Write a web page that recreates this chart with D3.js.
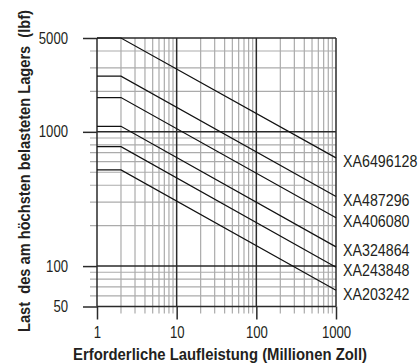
<!DOCTYPE html>
<html><head><meta charset="utf-8">
<script src="https://cdn.jsdelivr.net/npm/d3@7"></script>
<style>
body{margin:0;background:#fff}
svg{display:block}
text{font-family:"Liberation Sans",Arial,sans-serif;fill:#231f20}
</style>
</head><body><svg id="c" width="419" height="363"></svg>
<script>
const seriesNames = ["XA6496128","XA487296","XA406080","XA324864","XA243848","XA203242"];
const lifeX = [1, 2, 1000];
const loadValues = [
  [5000, 5000, 640],
  [2600, 2600, 330],
  [1800, 1800, 229],
  [1100, 1100, 139],
  [775, 775, 98],
  [520, 520, 66]
];
const xMajorTicks = [1, 10, 100, 1000];
const yMajorTicks = [50, 100, 1000, 5000];
const xMinorTicks = [2,3,4,5,6,7,8,9,20,30,40,50,60,70,80,90,200,300,400,500,600,700,800,900];
const yMinorTicks = [60,70,80,90,200,300,400,500,600,700,800,900,2000,3000,4000];
const xTitle = "Erforderliche Laufleistung (Millionen Zoll)";
const yTitle = "Last  des am höchsten belasteten Lagers  (lbf)";

const svg = d3.select("#c");
const L = 97, R = 336, T = 38, B = 306.5;
const x = d3.scaleLog().domain([1, 1000]).range([L, R]);
const y = d3.scaleLog().domain([50, 5000]).range([B, T]);

const gray = "#ababab", dark = "#2a2a2a";

function narrow(sel, factor) {
  sel.each(function () {
    const w = this.getComputedTextLength();
    d3.select(this).attr("textLength", w * factor).attr("lengthAdjust", "spacingAndGlyphs");
  });
}
function fitWidth(sel, width) {
  sel.attr("textLength", width).attr("lengthAdjust", "spacingAndGlyphs");
}

// minor grid (with outside extension acting as minor ticks)
svg.append("g").selectAll("line").data(xMinorTicks).join("line")
  .attr("x1", d => x(d)).attr("x2", d => x(d))
  .attr("y1", T).attr("y2", B + 7)
  .attr("stroke", gray).attr("stroke-width", 1.2);
svg.append("g").selectAll("line").data(yMinorTicks).join("line")
  .attr("y1", d => y(d)).attr("y2", d => y(d))
  .attr("x1", L - 7).attr("x2", R)
  .attr("stroke", gray).attr("stroke-width", 1.2);

// major grid lines
svg.append("g").selectAll("line").data(xMajorTicks).join("line")
  .attr("x1", d => x(d)).attr("x2", d => x(d))
  .attr("y1", T).attr("y2", B)
  .attr("stroke", dark).attr("stroke-width", 1.5);
svg.append("g").selectAll("line").data(yMajorTicks).join("line")
  .attr("y1", d => y(d)).attr("y2", d => y(d))
  .attr("x1", L).attr("x2", R)
  .attr("stroke", dark).attr("stroke-width", 1.5);

// axes (major ticks + labels)
const fmt = d3.format("d");
const xAxis = svg.append("g").attr("transform", `translate(0,${B})`)
  .call(d3.axisBottom(x).tickValues(xMajorTicks).tickFormat(fmt).tickSize(13).tickPadding(7));
const yAxis = svg.append("g").attr("transform", `translate(${L},0)`)
  .call(d3.axisLeft(y).tickValues(yMajorTicks).tickFormat(fmt).tickSize(14).tickPadding(15));
[xAxis, yAxis].forEach(g => {
  g.select(".domain").remove();
  g.selectAll(".tick line").attr("stroke", dark).attr("stroke-width", 1.5);
  g.selectAll(".tick text").attr("font-size", 16).attr("fill", "#231f20")
    .attr("font-family", '"Liberation Sans",Arial,sans-serif');
  narrow(g.selectAll(".tick text"), 0.82);
});

// series lines
const line = d3.line().x((d, i) => x(lifeX[i])).y(d => y(d));
svg.append("g").selectAll("path").data(loadValues).join("path")
  .attr("d", line).attr("fill", "none").attr("stroke", "#111").attr("stroke-width", 1.2);

// series labels
const labels = svg.append("g").selectAll("text").data(loadValues).join("text")
  .attr("x", R + 7).attr("y", d => y(d[d.length - 1]) + 5)
  .attr("dominant-baseline", "middle")
  .attr("font-size", 16)
  .text((d, i) => seriesNames[i]);
narrow(labels, 0.89);

// titles
const xt = svg.append("text").attr("x", 220).attr("y", 360).attr("text-anchor", "middle")
  .attr("font-size", 16).attr("font-weight", "bold").text(xTitle);
fitWidth(xt, 294);
const yt = svg.append("text").attr("transform", "translate(29.5,171) rotate(-90)")
  .attr("text-anchor", "middle").attr("font-size", 16).attr("font-weight", "bold")
  .style("white-space", "pre")
  .text(yTitle);
fitWidth(yt, 322);
</script>
</body></html>
